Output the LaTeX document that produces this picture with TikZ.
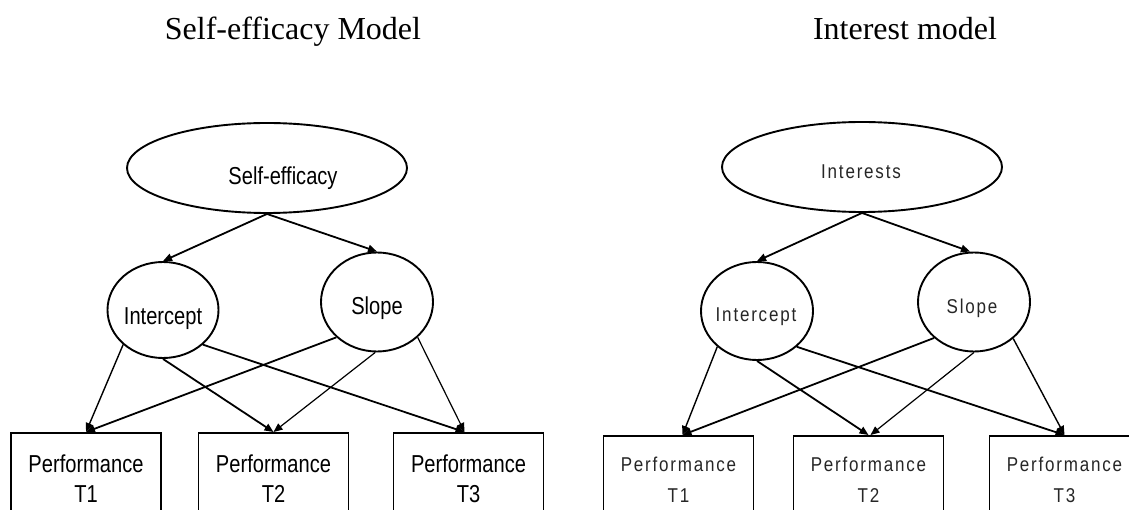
\documentclass[tikz,border=0pt]{standalone}
\usepackage{fontspec}
\setmainfont{Liberation Serif}
\newfontfamily\narrowsans[FakeStretch=0.82]{Liberation Sans}
\newfontfamily\thinsans[FakeStretch=0.85,LetterSpace=9]{Liberation Sans}
\usetikzlibrary{shapes.geometric,arrows.meta}
\begin{document}
\begin{tikzpicture}[x=1pt,y=-1pt,
  latent/.style={ellipse,draw,line width=1.9pt,inner sep=0pt},
  obsbox/.style={rectangle,draw,line width=1.9pt,inner sep=0pt,minimum width=150pt,minimum height=110pt,anchor=north},
  pth/.style={line width=1.8pt,-{Triangle[length=9pt,width=7.5pt]}},
  lightpth/.style={pth,line width=1.2pt},
  ttl/.style={font=\fontsize{32}{36}\selectfont,anchor=base,inner sep=0pt},
  lbl/.style={font=\narrowsans\fontsize{24.5}{30}\selectfont,anchor=base,inner sep=0pt},
  lbr/.style={font=\thinsans\fontsize{20}{26}\selectfont,anchor=base,inner sep=0pt,text=black!85},
]
\useasboundingbox (0,0) rectangle (1129,510);
\clip (0,0) rectangle (1129,510);

% ---------------- titles
\node[ttl] (t1) at (293,40) {Self-efficacy Model};
\node[ttl] (t2) at (905,40) {Interest model};

% ---------------- left model
\node[latent,minimum width=280pt,minimum height=90pt] (se) at (267,168) {};
\node[lbl] (se-t) at (283,185) {Self-efficacy};
\node[latent,minimum width=111pt,minimum height=96pt] (li) at (163,310) {};
\node[lbl] (li-t) at (163,324) {Intercept};
\node[latent,minimum width=112pt,minimum height=99pt] (ls) at (377,302) {};
\node[lbl] (ls-t) at (377,315) {Slope};

\node[obsbox] (lb1) at (86,432) {};
\node[obsbox] (lb2) at (273.5,432) {};
\node[obsbox] (lb3) at (468.5,432) {};
\node[lbl] (lb1a) at (86,472) {Performance};
\node[lbl] (lb1b) at (86,502) {T1};
\node[lbl] (lb2a) at (273.5,472) {Performance};
\node[lbl] (lb2b) at (273.5,502) {T2};
\node[lbl] (lb3a) at (468.5,472) {Performance};
\node[lbl] (lb3b) at (468.5,502) {T3};

\draw[pth] (se.south) -- (li.north);
\draw[pth] (se.south) -- (ls.north);
\draw[pth,line width=1.4pt] (li.221) -- (lb1.north);
\draw[pth] (li.270) -- (lb2.north);
\draw[pth] (li.319) -- ([xshift=-4pt]lb3.north);
\draw[pth] (ls.221) -- (lb1.north);
\draw[lightpth] (ls.268) -- (lb2.north);
\draw[lightpth] (ls.319) -- ([xshift=-4pt]lb3.north);

% ---------------- right model
\node[latent,minimum width=280pt,minimum height=90pt] (ri) at (862,167) {};
\node[lbr] (ri-t) at (861,179) {Interests};
\node[latent,minimum width=112pt,minimum height=98pt] (rc) at (757,311) {};
\node[lbr] (rc-t) at (756,322) {Intercept};
\node[latent,minimum width=112pt,minimum height=99pt] (rs) at (974,302) {};
\node[lbr] (rs-t) at (972,314) {Slope};

\node[obsbox] (rb1) at (678.5,435) {};
\node[obsbox] (rb2) at (868.5,435) {};
\node[obsbox] (rb3) at (1064.5,435) {};
\node[lbr] (rb1a) at (678.5,471) {Performance};
\node[lbr] (rb1b) at (678.5,502) {T1};
\node[lbr] (rb2a) at (868.5,471) {Performance};
\node[lbr] (rb2b) at (868.5,502) {T2};
\node[lbr] (rb3a) at (1064.5,471) {Performance};
\node[lbr] (rb3b) at (1064.5,502) {T3};

\draw[pth] (ri.south) -- (rc.north);
\draw[pth] (ri.south) -- ([xshift=-4pt]rs.north);
\draw[pth,line width=1.4pt] (rc.222) -- ([xshift=4pt]rb1.north);
\draw[pth] (rc.270) -- (rb2.north);
\draw[pth] (rc.318) -- (rb3.north);
\draw[pth] (rs.222) -- ([xshift=4pt]rb1.north);
\draw[lightpth] (rs.270) -- ([xshift=2pt]rb2.north);
\draw[lightpth,line width=1.4pt] (rs.317) -- (rb3.north);
\end{tikzpicture}
\end{document}
